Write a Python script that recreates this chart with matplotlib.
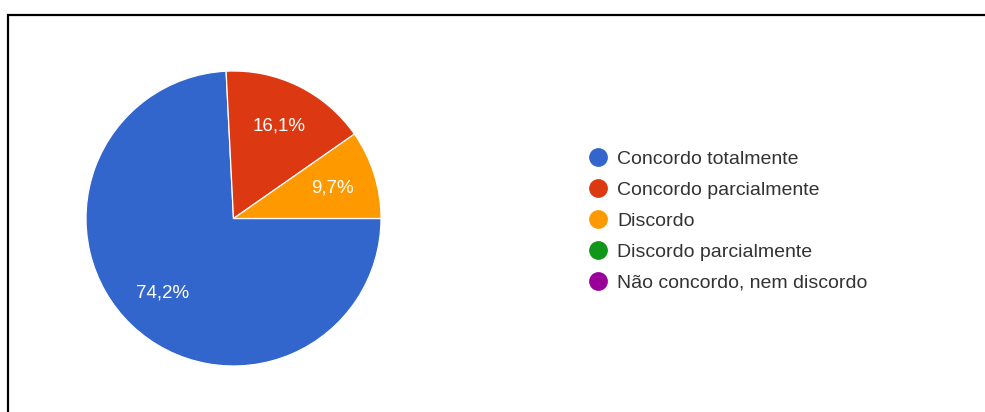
import matplotlib
matplotlib.use("Agg")
import matplotlib.pyplot as plt
from matplotlib.lines import Line2D

plt.rcParams['font.family'] = ['Liberation Sans', 'DejaVu Sans']

# Survey answers and their shares (%)
categories = [
    "Concordo totalmente",
    "Concordo parcialmente",
    "Discordo",
    "Discordo parcialmente",
    "Não concordo, nem discordo",
]
shares = [74.2, 16.1, 9.7, 0.0, 0.0]
colors = ["#3366CC", "#DC3912", "#FF9900", "#109618", "#990099"]

W, H = 985, 412
fig = plt.figure(figsize=(W / 100, H / 100), dpi=100)
fig.patch.set_facecolor("white")

# Pie axes (square box in pixels)
cx, cy, r = 233.5, 218.5, 147.5
ax = fig.add_axes([(cx - r) / W, (H - cy - r) / H, 2 * r / W, 2 * r / H])

vals = [v for v in shares if v > 0]
cols = [c for v, c in zip(shares, colors) if v > 0]


def fmt_pct(p):
    return f"{p:.1f}%".replace(".", ",")


wedges, texts, autotexts = ax.pie(
    vals,
    colors=cols,
    startangle=0,
    counterclock=False,
    autopct=fmt_pct,
    pctdistance=0.7,
    radius=1.0,
    wedgeprops=dict(edgecolor="white", linewidth=0.9),
    textprops=dict(color="white", fontsize=13.5),
)
ax.set_xlim(-1, 1)
ax.set_ylim(-1, 1)
ax.set_aspect("equal")
ax.axis("off")

# Legend with round markers
handles = [
    Line2D([], [], marker="o", linestyle="", markersize=12.5,
           markerfacecolor=c, markeredgecolor=c)
    for c in colors
]
fs = 14
fig.legend(
    handles, categories,
    loc="center left",
    bbox_to_anchor=(589.25 / W, 1 - 221 / H),
    frameon=False,
    fontsize=fs,
    handlelength=0.9,
    handletextpad=0.53,
    borderpad=0,
    borderaxespad=0,
    labelspacing=0.68,
    labelcolor="#333333",
)

# Frame lines along the top and left
fig.add_artist(Line2D([8 / W, 8 / W, 1.0], [0.0, 1 - 14.5 / H, 1 - 14.5 / H],
                      transform=fig.transFigure, color="black", linewidth=1.6,
                      solid_joinstyle="miter"))

fig.savefig("out.png", dpi=100, facecolor="white")
